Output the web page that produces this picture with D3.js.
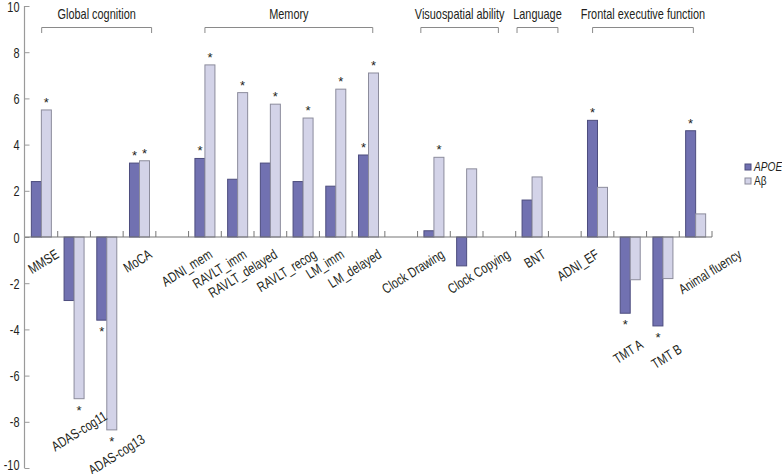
<!DOCTYPE html>
<html>
<head>
<meta charset="utf-8">
<script src="https://cdn.jsdelivr.net/npm/d3@7"></script>
<style>
body { margin: 0; background: #fff; }
text { font-family: "Liberation Sans", Arial, sans-serif; fill: #231f20; }
</style>
</head>
<body>
<svg id="chart"></svg>
<script>
var width = 782, height = 474;
var narrow = 0.78; // squeeze to look like the condensed face of the original

// categories (blank strings are the spacer slots between domains)
var categories = ["MMSE","ADAS-cog11","ADAS-cog13","MoCA","","ADNI_mem","RAVLT_imm","RAVLT_delayed","RAVLT_recog","LM_imm","LM_delayed","","Clock Drawing","Clock Copying","","BNT","","ADNI_EF","TMT A","TMT B","Animal fluency"];
var series = ["APOE","Aβ"];
var apoe  = [2.4,-2.75,-3.6,3.2,null,3.4,2.5,3.2,2.4,2.2,3.55,null,0.27,-1.25,null,1.6,null,5.05,-3.3,-3.85,4.6];
var abeta = [5.5,-7.0,-8.35,3.3,null,7.45,6.25,5.75,5.15,6.4,7.1,null,3.45,2.95,null,2.6,null,2.15,-1.85,-1.8,1.0];
var apoeSig  = [0,0,1,1,0,1,0,0,0,0,1,0,0,0,0,0,0,1,1,1,1];
var abetaSig = [1,1,1,1,0,1,1,1,1,1,1,0,1,0,0,0,0,0,0,0,0];
var yTicks = [-10,-8,-6,-4,-2,0,2,4,6,8,10];

// domain brackets, spans in category slots
var groupNames = ["Global cognition","Memory","Visuospatial ability","Language","Frontal executive function"];
var groupFrom  = [0.51, 5.5, 12.1, 15.04, 17.35];
var groupTo    = [3.87, 10.63, 14.47, 16.29, 20.43];

var colors = ["#7171b1", "#d3d3e8"];
var strokes = ["#4d4d7e", "#8c8c9c"];

// hand placement of the rotated category labels (offset from slot centre,
// below the zero line, or below the lowest bar when both bars are negative)
var labelNudge = {
	"MMSE": [18.5, 0], "MoCA": [13.5, 0], "ADNI_mem": [8.5, 0], "RAVLT_imm": [10, 0],
	"RAVLT_delayed": [8, 0], "RAVLT_recog": [14.5, 0], "LM_imm": [9.5, 0], "LM_delayed": [14, 0],
	"Clock Drawing": [11.5, 0], "Clock Copying": [44.5, 0], "BNT": [14.5, 0], "ADNI_EF": [2.5, 0],
	"Animal fluency": [47, 0],
	"ADAS-cog11": [34, 20], "ADAS-cog13": [39, 12], "TMT A": [14, 34], "TMT B": [20, 26]
};

var svg = d3.select("#chart").attr("width", width).attr("height", height);

var x0 = d3.scaleBand().domain(d3.range(categories.length)).range([25, 712]).padding(0);
var x1 = d3.scaleBand().domain(series).range([0, x0.bandwidth()]).paddingInner(0).paddingOuter(0.635);
var y = d3.scaleLinear().domain([-10, 10]).range([468, 6]);

// y axis
var yAxis = svg.append("g").attr("transform", "translate(24.5,0)")
	.call(d3.axisRight(y).tickValues(yTicks).tickSize(5).tickFormat(d3.format("d")));
yAxis.select(".domain").attr("stroke", "#9a9a9a").attr("stroke-width", 1.2).attr("d", "M0," + y(10) + "V" + y(-10));
yAxis.selectAll(".tick line").attr("stroke", "#9a9a9a");
yAxis.selectAll(".tick text").attr("x", null).attr("dy", null)
	.attr("transform", function(d){ return "translate(-5," + (d == -10 ? 1 : 5) + ") scale(" + narrow + ",1)"; })
	.attr("text-anchor", "end").attr("font-size", 14)
	.text(function(d){ return d < 0 ? "-" + Math.abs(d) : d; });

var rows = categories.map(function(c, i){
	return {i: i, name: c, vals: [apoe[i], abeta[i]], sig: [apoeSig[i], abetaSig[i]]};
});

// bars
var cat = svg.append("g").selectAll("g").data(rows).join("g")
	.attr("transform", function(d){ return "translate(" + x0(d.i) + ",0)"; });

cat.selectAll("rect").data(function(d){
		return series.map(function(s, k){ return {s: s, k: k, v: d.vals[k]}; }).filter(function(e){ return e.v != null; });
	}).join("rect")
	.attr("x", function(e){ return x1(e.s); })
	.attr("width", x1.bandwidth())
	.attr("y", function(e){ return y(Math.max(0, e.v)); })
	.attr("height", function(e){ return Math.abs(y(e.v) - y(0)); })
	.attr("fill", function(e){ return colors[e.k]; })
	.attr("stroke", function(e){ return strokes[e.k]; })
	.attr("stroke-width", 1);

// significance stars
cat.selectAll("text.star").data(function(d){
		return series.map(function(s, k){ return {s: s, k: k, v: d.vals[k], sig: d.sig[k]}; }).filter(function(e){ return e.sig; });
	}).join("text").attr("class", "star")
	.attr("x", function(e){ return x1(e.s) + x1.bandwidth() / 2; })
	.attr("y", function(e){ return e.v >= 0 ? y(e.v) - 3 : y(e.v) + 16; })
	.attr("text-anchor", "middle").attr("font-size", 13)
	.text("*");

// zero line with tick marks at slot edges
var xAxis = svg.append("g").attr("transform", "translate(0," + y(0) + ")");
xAxis.append("line").attr("x1", 25).attr("x2", 712).attr("stroke", "#777").attr("stroke-width", 1.2);
xAxis.selectAll("line.tk").data(d3.range(1, categories.length + 1)).join("line").attr("class", "tk")
	.attr("x1", function(i){ return x0(0) + i * x0.step(); })
	.attr("x2", function(i){ return x0(0) + i * x0.step(); })
	.attr("y1", 0).attr("y2", -6).attr("stroke", "#777");

// rotated category labels
svg.append("g").selectAll("text").data(rows.filter(function(d){ return d.name; })).join("text")
	.attr("transform", function(d){
		var neg = d3.max(d.vals) < 0;
		var n = labelNudge[d.name] || [6, 0];
		var ax = x0(d.i) + x0.bandwidth() / 2 + n[0];
		var ay = (neg ? y(d3.min(d.vals)) : y(0) + 20) + n[1];
		return "translate(" + ax + "," + ay + ") rotate(-32) scale(" + narrow + ",1)";
	})
	.attr("text-anchor", "end").attr("font-size", 14)
	.text(function(d){ return d.name; });

// domain brackets
var gx = function(t){ return x0(0) + t * x0.step(); };
var grp = svg.append("g").selectAll("g").data(groupNames).join("g");
grp.append("path")
	.attr("d", function(g, k){ return "M" + gx(groupFrom[k]) + ",33V27.5H" + gx(groupTo[k]) + "V33"; })
	.attr("fill", "none").attr("stroke", "#8a8a8a").attr("stroke-width", 1);
grp.append("text")
	.attr("transform", function(g, k){
		return "translate(" + (gx(groupFrom[k]) + gx(groupTo[k])) / 2 + ",19) scale(" + narrow + ",1)";
	})
	.attr("text-anchor", "middle").attr("font-size", 14)
	.text(function(g){ return g; });

// legend
var leg = svg.append("g").attr("transform", "translate(745,164)");
var li = leg.selectAll("g").data(series).join("g").attr("transform", function(s, k){ return "translate(0," + k * 14 + ")"; });
li.append("rect").attr("width", 6).attr("height", 6)
	.attr("fill", function(s, k){ return colors[k]; }).attr("stroke", function(s, k){ return strokes[k]; });
li.append("text").attr("transform", "translate(9,7) scale(" + narrow + ",1)").attr("font-size", 13)
	.attr("font-style", function(s, k){ return k == 0 ? "italic" : "normal"; })
	.text(function(s){ return s; });
</script>
</body>
</html>
